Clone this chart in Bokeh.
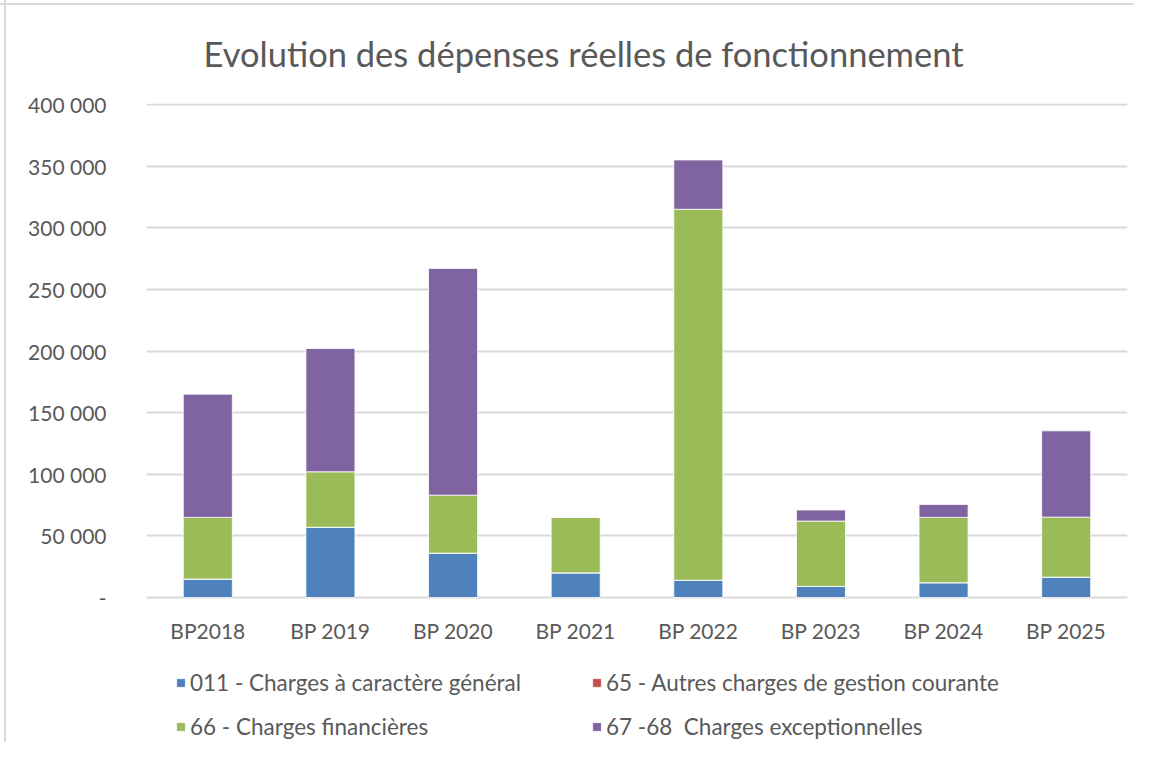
from bokeh.plotting import figure
from bokeh.models import Legend, LegendItem, FixedTicker
from bokeh.core.properties import value
from bokeh.embed import file_html
from bokeh.resources import INLINE

categories = ["BP2018", "BP 2019", "BP 2020", "BP 2021", "BP 2022", "BP 2023", "BP 2024", "BP 2025"]
charges_generales = [15000, 57000, 36000, 20000, 14000, 9000, 12000, 16500]
autres_charges = [0, 0, 0, 0, 0, 0, 0, 0]
charges_financieres = [50000, 45000, 47000, 45000, 301000, 53000, 53000, 48700]
charges_exceptionnelles = [100000, 100000, 184000, 0, 40000, 9000, 10500, 70000]

series_keys = ["c011", "c65", "c66", "c6768"]
series_labels = ["011 - Charges à caractère général", "65 - Autres charges de gestion courante",
                 "66 - Charges financières", "67 -68  Charges exceptionnelles"]
colors = ["#4F81BD", "#C0504D", "#9BBB59", "#8064A2"]
y_ticks = [0, 50000, 100000, 150000, 200000, 250000, 300000, 350000, 400000]

FONT = "Lato"
TXT = "#595959"

# layout (pixels): frame spans from top 103 to bottom 742; value 0 sits at 597, 400 000 at 104
W, H = 1134, 742
FRAME_LEFT, FRAME_RIGHT, FRAME_TOP = 146, 1127, 103
ZERO_PX, TOP_PX = 597, 104
px_per_unit = (ZERO_PX - TOP_PX) / y_ticks[-1]
y_start = -(H - ZERO_PX) / px_per_unit
y_end = (ZERO_PX - FRAME_TOP) / px_per_unit

data = {"cat": categories, "c011": charges_generales, "c65": autres_charges,
        "c66": charges_financieres, "c6768": charges_exceptionnelles}

p = figure(x_range=categories, y_range=(y_start, y_end), width=W, height=H,
           frame_width=FRAME_RIGHT - FRAME_LEFT, frame_height=H - FRAME_TOP,
           x_axis_location=None,
           output_backend="svg", toolbar_location=None,
           min_border_left=FRAME_LEFT, min_border_right=W - FRAME_RIGHT,
           min_border_top=FRAME_TOP, min_border_bottom=0)

p.title.text = "Evolution des dépenses réelles de fonctionnement"
p.title.align = "left"
p.title.offset = 57
p.title.standoff = 59
p.title.text_font = FONT
p.title.text_font_size = "34.5px"
p.title.text_font_style = "normal"
p.title.text_color = TXT

renderers = p.vbar_stack(series_keys, x="cat", width=0.4, color=colors, source=data,
                         line_color="white", line_width=0.8)

# category labels under the baseline
p.text(x=categories, y=[0] * len(categories), text=categories, y_offset=33,
       text_align="center", text_baseline="middle", text_font=value(FONT),
       text_font_size="21px", text_color=TXT)

p.x_range.range_padding = 0
p.xgrid.grid_line_color = None
p.ygrid.grid_line_color = "#d9d9d9"
p.ygrid.grid_line_width = 2
p.ygrid.ticker = FixedTicker(ticks=y_ticks)
p.outline_line_color = None

p.yaxis.ticker = FixedTicker(ticks=y_ticks)
p.yaxis.major_label_overrides = {t: ("-" if t == 0 else f"{t:,}".replace(",", " ")) for t in y_ticks}
p.yaxis.axis_line_color = None
p.yaxis.major_tick_line_color = None
p.yaxis.minor_tick_line_color = None
p.yaxis.major_label_standoff = 34
p.yaxis.major_label_text_font = FONT
p.yaxis.major_label_text_font_size = "21px"
p.yaxis.major_label_text_color = TXT

items = [LegendItem(label=lab, renderers=[r]) for lab, r in zip(series_labels, renderers)]
legend = Legend(items=items, orientation="horizontal", ncols=2, location=(29, 2),
                glyph_width=11, glyph_height=11, label_standoff=4, label_height=22,
                label_width=384, spacing=17, padding=0, margin=0,
                label_text_font=FONT, label_text_font_size="22.5px", label_text_color=TXT,
                border_line_color=None, background_fill_alpha=0)
p.add_layout(legend, "center")

# thin light-grey chart border on the left and top edges
p.border_fill_color = None
p.styles = {"background": "linear-gradient(to right, transparent 4px, #d9d9d9 4px, #d9d9d9 6px, transparent 6px), "
                          "linear-gradient(to bottom, transparent 3px, #d9d9d9 3px, #d9d9d9 5px, transparent 5px), white"}

open("out.html", "w").write(file_html(p, INLINE))
